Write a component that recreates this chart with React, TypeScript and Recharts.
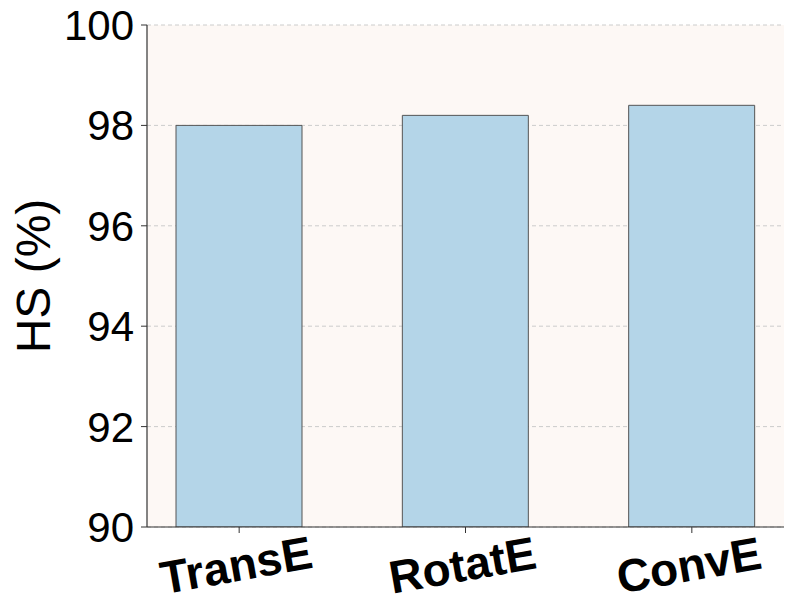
import React from 'react';
import { BarChart, Bar, XAxis, YAxis, CartesianGrid } from 'recharts';

const categories = ['TransE', 'RotatE', 'ConvE'];
const hsValues = [98.0, 98.2, 98.4];
const yTicks = [90, 92, 94, 96, 98, 100];

const data = categories.map((name, i) => ({ name, hs: hsValues[i] }));

const FONT = '"Liberation Sans", Arial, Helvetica, sans-serif';

const XTick = (props: any) => {
  const { x, y, payload } = props;
  return (
    <g transform={`translate(${x - 3},${y + 30}) rotate(-10)`}>
      <text textAnchor="middle" dy="0.35em" fontSize={46} fontWeight="bold" fontFamily={FONT} fill="#000">
        {payload.value}
      </text>
    </g>
  );
};

const YLabel = (props: any) => {
  const vb = props.viewBox || {};
  const cx = (vb.x || 0) + 33;
  const cy = (vb.y || 0) + (vb.height || 0) / 2;
  return (
    <text x={cx} y={cy} transform={`rotate(-90, ${cx}, ${cy})`} textAnchor="middle" dy="0.35em" fontSize={48} fontFamily={FONT} fill="#000">
      HS (%)
    </text>
  );
};

export default function App() {
  return (
    <div style={{ position: 'absolute', left: 0, top: 0 }}>
      <BarChart width={793} height={614} data={data} margin={{ top: 25, right: 9, left: 0, bottom: 0 }}>
        <CartesianGrid vertical={false} stroke="#cccccc" strokeDasharray="4 3" fill="#fdf8f5" fillOpacity={1} />
        <XAxis
          dataKey="name"
          height={87}
          padding={{ left: -21, right: -21 }}
          tick={<XTick />}
          tickSize={6}
          axisLine={{ stroke: '#333', strokeWidth: 1.2 }}
          tickLine={{ stroke: '#333' }}
          interval={0}
        />
        <XAxis xAxisId="top" orientation="top" dataKey="name" height={0} tick={false} tickLine={false} axisLine={{ stroke: '#333', strokeWidth: 1.2 }} />
        <YAxis
          width={147}
          domain={[90, 100]}
          ticks={yTicks}
          allowDataOverflow
          tickSize={6}
          tickMargin={7}
          tick={{ fontSize: 42, fill: '#000', fontFamily: FONT }}
          axisLine={{ stroke: '#333', strokeWidth: 1.2 }}
          tickLine={{ stroke: '#333' }}
          label={<YLabel />}
        />
        <YAxis yAxisId="right" orientation="right" width={0} domain={[90, 100]} tick={false} tickLine={false} axisLine={{ stroke: '#333', strokeWidth: 1.2 }} />
        <Bar dataKey="hs" fill="#b4d5e8" stroke="#555" strokeWidth={1} barSize={126} isAnimationActive={false} />
      </BarChart>
    </div>
  );
}
